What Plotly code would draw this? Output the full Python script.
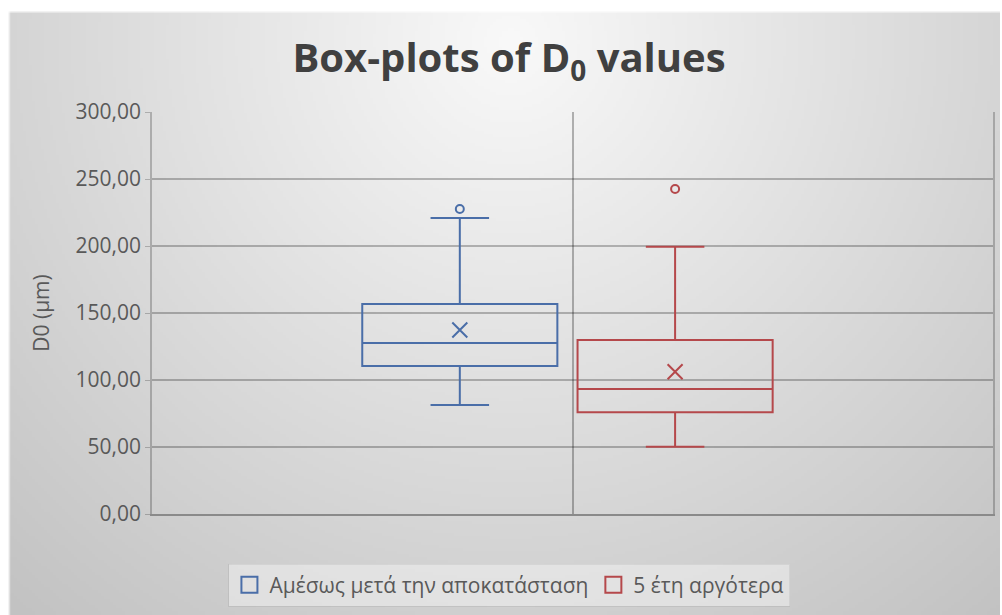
import base64, struct, zlib
import numpy as np
import plotly.graph_objects as go

# ---- data ----
series_names = ["Αμέσως μετά την αποκατάσταση", "5 έτη αργότερα"]
q1_vals = [110.4, 75.9]
median_vals = [127.6, 93.3]
q3_vals = [156.7, 129.9]
lower_whisker = [81.3, 50.2]
upper_whisker = [220.9, 199.5]
mean_vals = [137.3, 106.2]
outliers = [[227.6], [242.5]]
y_ticks = [0, 50, 100, 150, 200, 250, 300]

# ---- styling ----
colors = ["#4a6ea8", "#b5484b"]
offsets = [-0.134, 0.122]
box_width = 0.232

W, H = 1002, 615
ml, mr, mt, mb = 152, 7, 112, 101
pw, ph = W - ml - mr, H - mt - mb


def gradient_uri():
    w, h = 334, 205
    yy, xx = np.mgrid[0:h, 0:w]
    X = xx * 3.0
    Y = yy * 3.0
    r = np.sqrt((X - 510) ** 2 + (Y - 40) ** 2)
    c = 249 - 55 * np.clip(r / 760.0, 0, 1)
    img = np.clip(c, 0, 255).astype(np.uint8)
    img = np.stack([img, img, img], axis=-1)
    img[: 4, :, :] = 255
    img[:, : 3, :] = 255
    raw = b"".join(b"\x00" + row.tobytes() for row in img)

    def chunk(t, d):
        c_ = struct.pack(">I", len(d)) + t + d
        return c_ + struct.pack(">I", zlib.crc32(t + d) & 0xFFFFFFFF)

    png = b"\x89PNG\r\n\x1a\n" + chunk(b"IHDR", struct.pack(">IIBBBBB", w, h, 8, 2, 0, 0, 0))
    png += chunk(b"IDAT", zlib.compress(raw, 9)) + chunk(b"IEND", b"")
    return "data:image/png;base64," + base64.b64encode(png).decode()


fig = go.Figure()
for i in range(2):
    fig.add_trace(go.Box(
        name=series_names[i],
        x=[offsets[i]],
        q1=[q1_vals[i]], median=[median_vals[i]], q3=[q3_vals[i]],
        lowerfence=[lower_whisker[i]], upperfence=[upper_whisker[i]],
        width=box_width, whiskerwidth=0.3,
        line=dict(color=colors[i], width=2),
        fillcolor="rgba(0,0,0,0)",
        boxpoints=False, hoverinfo="skip",
        legendgroup=str(i), showlegend=False,
    ))
    fig.add_trace(go.Scatter(
        x=[offsets[i]], y=[mean_vals[i]], mode="markers",
        marker=dict(symbol="x-thin-open", size=15, color=colors[i],
                    line=dict(color=colors[i], width=2)),
        showlegend=False, legendgroup=str(i), hoverinfo="skip",
    ))
    fig.add_trace(go.Scatter(
        x=[offsets[i]] * len(outliers[i]), y=outliers[i], mode="markers",
        marker=dict(symbol="circle-open", size=8, color=colors[i],
                    line=dict(color=colors[i], width=2)),
        showlegend=False, legendgroup=str(i), hoverinfo="skip",
    ))
    # legend entry (square outline icon like the original)
    fig.add_trace(go.Scatter(
        x=[None], y=[None], mode="markers", name=series_names[i],
        marker=dict(symbol="square-open", size=16, color=colors[i],
                    line=dict(color=colors[i], width=2)),
        legendgroup=str(i), showlegend=True, hoverinfo="skip",
    ))

fig.update_layout(
    width=W, height=H,
    margin=dict(l=ml, r=mr, t=mt, b=mb),
    paper_bgcolor="white", plot_bgcolor="rgba(0,0,0,0)",
    separators=",.",
    font=dict(family="Open Sans", color="#595959"),
    title=dict(text="Box-plots of D<sub>0</sub> values", x=0.508, xanchor="center",
               y=0.905, yanchor="middle",
               font=dict(family="Open Sans", size=40, color="#404040", weight="bold")),
    images=[dict(source=gradient_uri(), xref="paper", yref="paper",
                 x=-ml / pw, y=1 + mt / ph, sizex=W / pw, sizey=H / ph,
                 xanchor="left", yanchor="top", sizing="stretch", layer="below")],
    xaxis=dict(range=[-0.5, 0.5], tickvals=[0], showticklabels=False, showgrid=True,
               gridcolor="rgba(0,0,0,0.28)", gridwidth=1.5, zeroline=False,
               showline=True, linecolor="#8a8a8a", linewidth=2, ticks=""),
    yaxis=dict(range=[0, 300], tickvals=y_ticks, tickformat=".2f",
               showgrid=True, gridcolor="rgba(0,0,0,0.25)", gridwidth=1.5,
               zeroline=False, showline=True, mirror=True, linecolor="rgba(0,0,0,0.22)", linewidth=1.5,
               ticks="outside", ticklen=5, tickcolor="rgba(0,0,0,0.22)",
               tickfont=dict(size=21, color="#595959"),
               title=dict(text="D0 (μm)", font=dict(size=21, color="#595959"), standoff=20)),
    legend=dict(orientation="h", x=0.425, xanchor="center", y=-0.177, yanchor="middle",
                bgcolor="rgba(240,240,240,0.55)", bordercolor="rgba(0,0,0,0.06)", borderwidth=1,
                font=dict(size=21, color="#595959"), itemwidth=30, traceorder="normal"),
    showlegend=True,
)

fig.write_html("out.html", config={"displayModeBar": False},
               post_script="document.body.style.margin='0';")
